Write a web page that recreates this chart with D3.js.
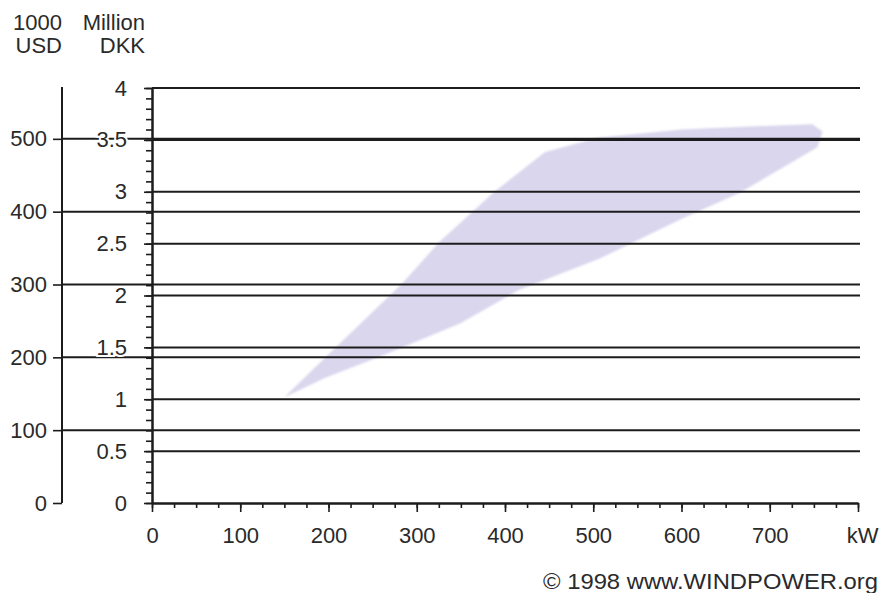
<!DOCTYPE html>
<html>
<head>
<meta charset="utf-8">
<script src="https://cdn.jsdelivr.net/npm/d3@7"></script>
<style>
  html, body { margin: 0; padding: 0; background: #fff; }
  svg { display: block; }
  text { font-family: "Liberation Sans", Arial, sans-serif; fill: #2a2a2a; }
</style>
</head>
<body>
<script>
// ---- data ----
const kwTicks = [0, 100, 200, 300, 400, 500, 600, 700, 800];
const kwTickLabels = ["0", "100", "200", "300", "400", "500", "600", "700", "kW"];
const dkkTicks = [0, 0.5, 1, 1.5, 2, 2.5, 3, 3.5, 4];
const dkkTickLabels = ["0", "0.5", "1", "1.5", "2", "2.5", "3", "3.5", "4"];
const usdTicks = [0, 100, 200, 300, 400, 500];
const usdTickLabels = ["0", "100", "200", "300", "400", "500"];
const dkkPerUsd = 7.02; // DKK per USD (1998)

// price band of turbines: upper edge (left tip -> right tip), then lower edge back
const upperKw  = [150, 196, 283, 325, 388, 445, 505, 600, 678, 748, 760];
const upperDkk = [1.02, 1.40, 2.11, 2.51, 3.00, 3.38, 3.52, 3.60, 3.63, 3.65, 3.58];
const lowerKw  = [754, 666, 598, 508, 415, 349, 255, 197];
const lowerDkk = [3.43, 2.99, 2.73, 2.36, 2.05, 1.73, 1.40, 1.21];

const W = 884, H = 593;
const svg = d3.select("body").append("svg").attr("width", W).attr("height", H);
svg.append("rect").attr("width", W).attr("height", H).attr("fill", "#fff");

const x = d3.scaleLinear().domain([0, 800]).range([152, 858]);
const yDkk = d3.scaleLinear().domain([0, 4]).range([503, 88]);
const yUsd = d3.scaleLinear().domain([0, 4000 / dkkPerUsd]).range([503, 88]);
const usdAxisX = 62, gridEnd = 860;
const ink = "#1c1c1c";

// blur filter for soft band edges
const defs = svg.append("defs");
defs.append("filter").attr("id", "soft").attr("x", "-5%").attr("y", "-5%").attr("width", "110%").attr("height", "110%")
  .append("feGaussianBlur").attr("stdDeviation", 1.3);

// band
const bandPts = upperKw.map((k, i) => [k, upperDkk[i]])
  .concat(lowerKw.map((k, i) => [k, lowerDkk[i]]));
svg.append("path")
  .attr("d", d3.line().x(d => x(d[0])).y(d => yDkk(d[1])).curve(d3.curveLinearClosed)(bandPts))
  .attr("fill", "#d9d6ed")
  .attr("filter", "url(#soft)");

// USD gridlines
svg.append("g").selectAll("line").data(usdTicks.filter(d => d > 0)).join("line")
  .attr("x1", usdAxisX).attr("x2", gridEnd)
  .attr("y1", d => yUsd(d)).attr("y2", d => yUsd(d))
  .attr("stroke", ink).attr("stroke-width", 2);

// DKK gridlines
svg.append("g").selectAll("line").data(dkkTicks.filter(d => d > 0)).join("line")
  .attr("x1", x(0)).attr("x2", gridEnd)
  .attr("y1", d => yDkk(d)).attr("y2", d => yDkk(d))
  .attr("stroke", ink).attr("stroke-width", 2);

function styleAxis(g, fontSize) {
  g.selectAll(".domain").attr("stroke", ink).attr("stroke-width", 2);
  g.selectAll(".tick line").attr("stroke", ink).attr("stroke-width", 1.6);
  g.selectAll("text").attr("font-size", fontSize).attr("font-family", null).attr("fill", "#2a2a2a");
}

// USD axis
const gUsd = svg.append("g").attr("transform", `translate(${usdAxisX},0)`)
  .call(d3.axisLeft(yUsd).tickValues(usdTicks).tickFormat((d, i) => usdTickLabels[i])
    .tickSize(9).tickSizeOuter(0).tickPadding(6));
styleAxis(gUsd, 22);
gUsd.select(".domain").attr("d", `M0,87V${yUsd(0)}`);

// DKK minor ticks
const gDkkMinor = svg.append("g").attr("transform", `translate(${x(0)},0)`)
  .call(d3.axisLeft(yDkk).tickValues(d3.range(0, 4.001, 0.1)).tickFormat("").tickSize(6).tickSizeOuter(0));
styleAxis(gDkkMinor, 22);

// DKK major axis
const gDkk = svg.append("g").attr("transform", `translate(${x(0)},0)`)
  .call(d3.axisLeft(yDkk).tickValues(dkkTicks).tickFormat((d, i) => dkkTickLabels[i])
    .tickSize(8).tickSizeOuter(0).tickPadding(17));
styleAxis(gDkk, 22);
gDkk.selectAll("text")
  .attr("stroke", "#fff").attr("stroke-width", 4).attr("paint-order", "stroke");

// x minor ticks
const gXMinor = svg.append("g").attr("transform", `translate(0,${yDkk(0)})`)
  .call(d3.axisBottom(x).tickValues(d3.range(0, 800.1, 25)).tickFormat("").tickSize(5).tickSizeOuter(0));
styleAxis(gXMinor, 22);

// x major axis
const gX = svg.append("g").attr("transform", `translate(0,${yDkk(0)})`)
  .call(d3.axisBottom(x).tickValues(kwTicks).tickFormat((d, i) => kwTickLabels[i])
    .tickSize(9).tickSizeOuter(0).tickPadding(15));
styleAxis(gX, 22);
gX.selectAll(".tick").filter(d => d === 800).select("text").attr("dx", 4);

// axis headers
const hdr = svg.append("g").attr("font-size", 22).attr("text-anchor", "end");
hdr.append("text").attr("x", 62).attr("y", 30).text("1000");
hdr.append("text").attr("x", 62).attr("y", 53).text("USD");
hdr.append("text").attr("x", 145).attr("y", 30).text("Million");
hdr.append("text").attr("x", 145).attr("y", 53).text("DKK");

// copyright
svg.append("text").attr("x", 878).attr("y", 589).attr("text-anchor", "end")
  .attr("font-size", 22).attr("textLength", 335).attr("lengthAdjust", "spacingAndGlyphs")
  .text("\u00A9 1998 www.WINDPOWER.org");
</script>
</body>
</html>
